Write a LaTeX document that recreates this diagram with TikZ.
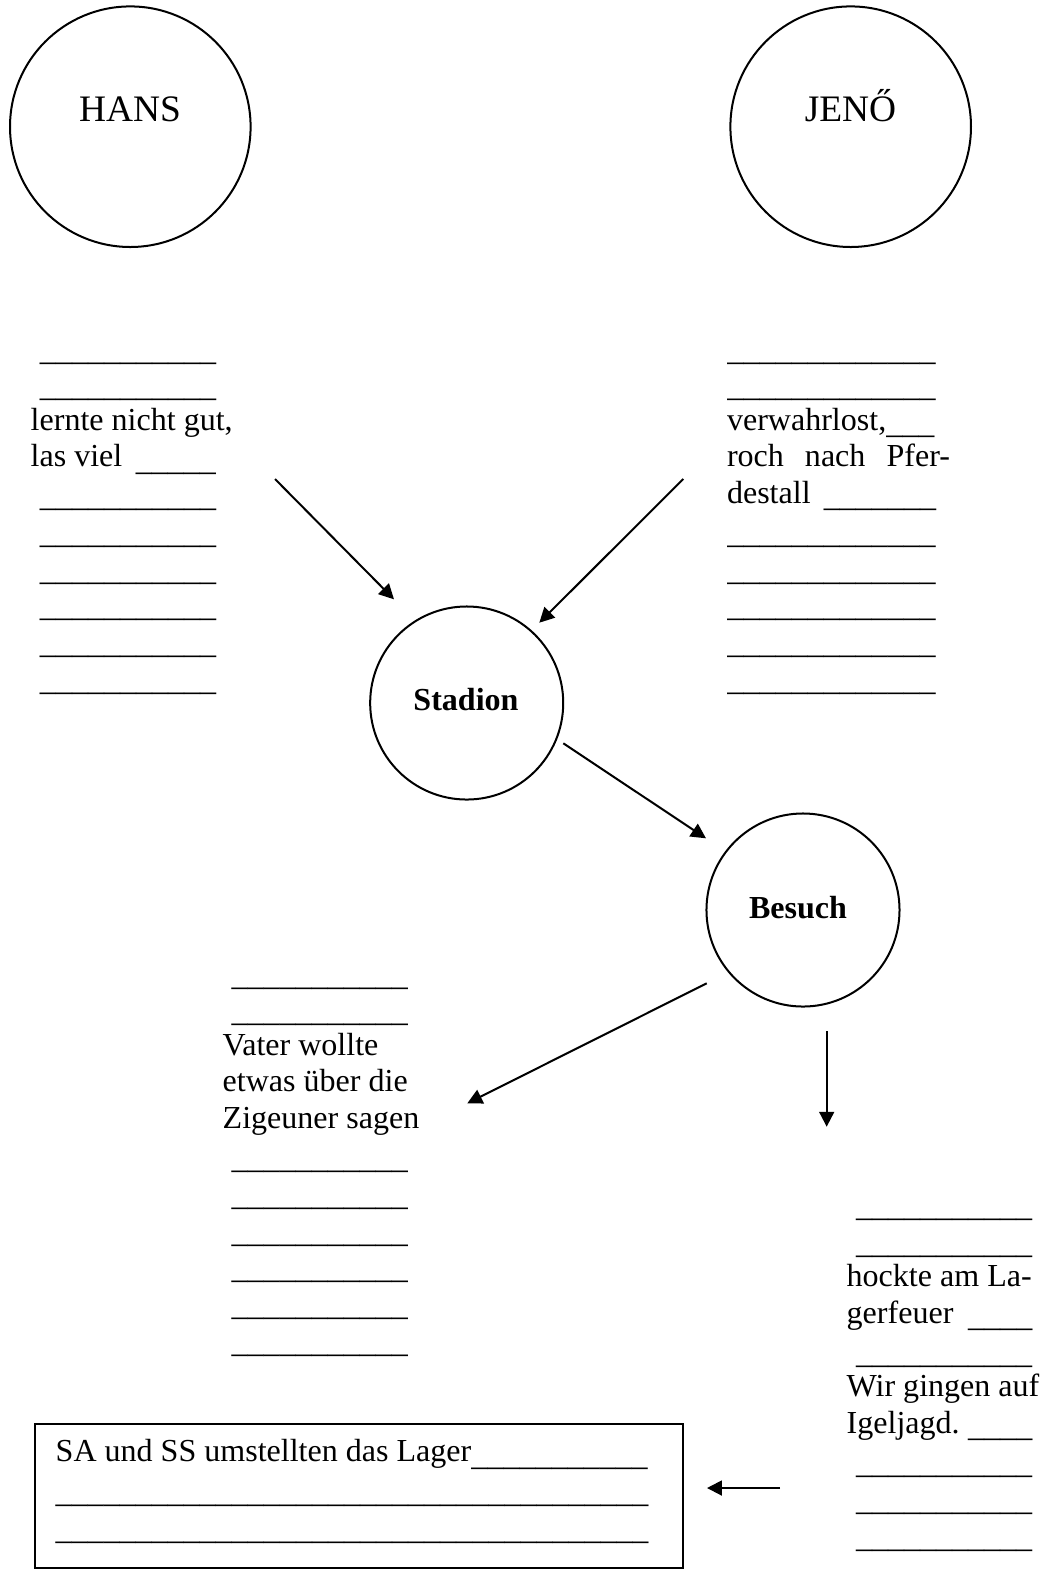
\documentclass[tikz,border=0pt]{standalone}
\usepackage{fontspec}
\setmainfont{Liberation Serif}
\usetikzlibrary{arrows.meta}
\ExplSyntaxOn
\NewDocumentCommand\Us{m}{\raisebox{-1.3pt}{\prg_replicate:nn{#1}{\_}}}
\ExplSyntaxOff
\begin{document}
\begin{tikzpicture}[x=0.3745pt,y=-0.3745pt,
  every node/.style={inner sep=0pt,outer sep=0pt},
  t12/.style={anchor=base west,font=\fontsize{12pt}{13.74pt}\selectfont},
  bigcirc/.style={draw,circle,line width=0.75pt,minimum size=90.1pt},
  midcirc/.style={draw,circle,line width=0.75pt,minimum size=72.3pt},
  namelbl/.style={anchor=base,font=\fontsize{14pt}{16pt}\selectfont},
  boldlbl/.style={anchor=base,font=\fontsize{12pt}{14pt}\selectfont\bfseries},
  arr/.style={line width=0.75pt,-{Triangle[length=5.6pt,width=5.6pt]}}]
\useasboundingbox (0,0) rectangle (1049,1587);

% circles
\node[bigcirc] (hans) at (130.3,126.7) {};
\node[namelbl] (hansT) at (130,121.7) {HANS};
\node[bigcirc] (jeno) at (850.7,126.7) {};
\node[namelbl] (jenoT) at (850.5,121.7) {JENŐ};
\node[midcirc] (stadion) at (466.7,703) {};
\node[boldlbl] (stadionT) at (466,710) {Stadion};
\node[midcirc] (besuch) at (803,910) {};
\node[boldlbl] (besuchT) at (798,918) {Besuch};

% left column (Hans)
\foreach \k in {0,1,4,5,6,7,8,9}
  \node[t12] (hl\k) at (40,{356.6+36.7*\k}) {\Us{11}};
\node[t12] (hl2) at (30.7,430) {lernte nicht gut,};
\node[t12] (hl3) at (30.7,466.7) {\makebox[39.4pt][l]{las viel}\Us{5}};

% right column (Jenő)
\foreach \k in {0,1,5,6,7,8,9}
  \node[t12] (jl\k) at (727.3,{356.6+36.7*\k}) {\Us{13}};
\node[t12] (jl2) at (727,430) {verwahrlost,\Us{3}};
\node[t12] (jl3) at (727,466.7) {\makebox[83.5pt][s]{roch nach Pfer-}};
\node[t12] (jl4) at (727,503.3) {\makebox[36.3pt][l]{destall}\Us{7}};

% Vater column
\foreach \k in {0,1,5,6,7,8,9,10}
  \node[t12] (vl\k) at (231.7,{981.7+36.7*\k}) {\Us{11}};
\node[t12] (vl2) at (222.7,1055) {Vater wollte};
\node[t12] (vl3) at (222.7,1091.7) {etwas über die};
\node[t12] (vl4) at (222.7,1128.3) {Zigeuner sagen};

% bottom right column
\foreach \k in {0,1,4,7,8,9}
  \node[t12] (rl\k) at (856,{1213.3+36.7*\k}) {\Us{11}};
\node[t12] (rl2) at (846.7,1286.7) {hockte am La-};
\node[t12] (rl3) at (846.7,1323.3) {\makebox[45.5pt][l]{gerfeuer}\Us{4}};
\node[t12] (rl5) at (846.7,1396.7) {Wir gingen auf};
\node[t12] (rl6) at (846.7,1433.3) {\makebox[45.5pt][l]{Igeljagd.}\Us{4}};

% box
\node[draw,line width=0.75pt,anchor=north west,minimum width=242.7pt,minimum height=53.9pt] (box) at (35,1424) {};
\node[t12] (bx1) at (55.7,1461.7) {SA und SS umstellten das Lager\Us{11}};
\node[t12] (bx2) at (55.7,1498.7) {\Us{37}};
\node[t12] (bx3) at (55.7,1535.7) {\Us{37}};

% connector end points
\coordinate (a1s) at (275,479);     \coordinate (a1e) at (394,599.3);
\coordinate (a2s) at (683.3,479);   \coordinate (a2e) at (539.3,622.7);
\coordinate (a3s) at (563.3,743.3); \coordinate (a3e) at (706,838.3);
\coordinate (a4s) at (706.7,983.3); \coordinate (a4e) at (467.3,1103.3);
\coordinate (a5s) at (826.7,1031);  \coordinate (a5e) at (826.7,1126.7);
\coordinate (a6s) at (780,1488);    \coordinate (a6e) at (707,1488);

\draw[arr] (a1s) -- (a1e);
\draw[arr] (a2s) -- (a2e);
\draw[arr] (a3s) -- (a3e);
\draw[arr] (a4s) -- (a4e);
\draw[arr] (a5s) -- (a5e);
\draw[arr] (a6s) -- (a6e);
\end{tikzpicture}
\end{document}
